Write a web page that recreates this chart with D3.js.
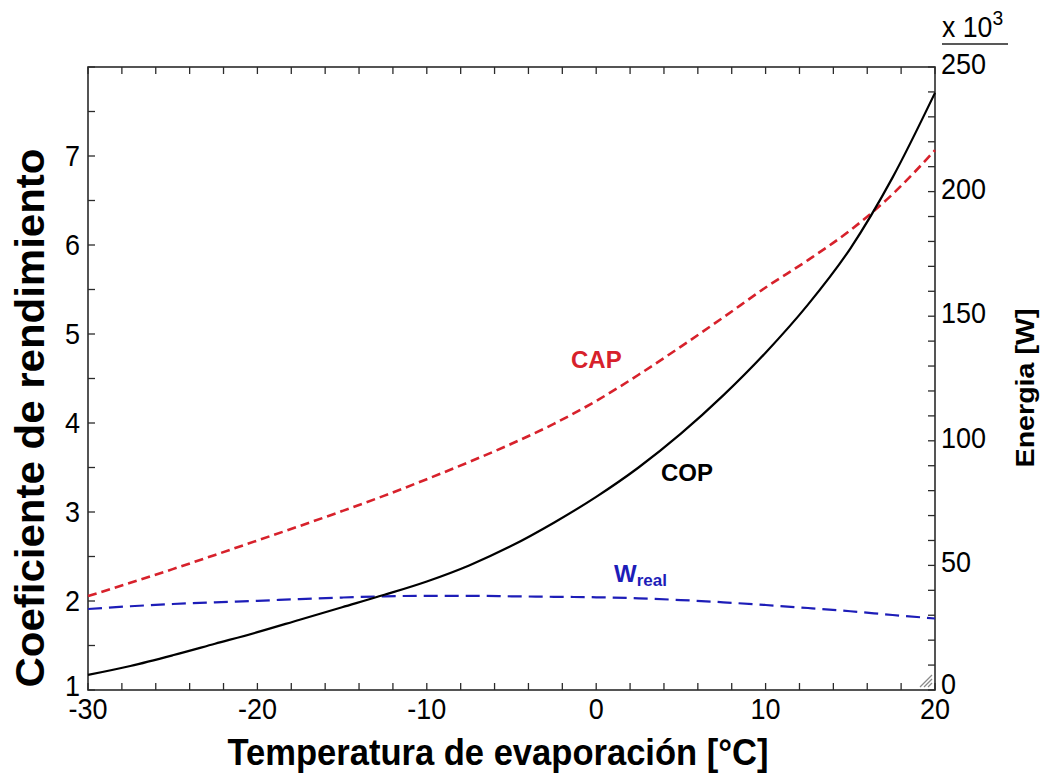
<!DOCTYPE html>
<html>
<head>
<meta charset="utf-8">
<script src="https://cdn.jsdelivr.net/npm/d3@7"></script>
<style>
  html, body { margin: 0; padding: 0; background: #fff; }
  svg { display: block; font-family: Arial, "Liberation Sans", sans-serif; }
</style>
</head>
<body>
<svg id="chart" width="1044" height="780"></svg>
<script>
// Evaporation temperature [°C]
const temperature = [-30, -27.5, -25, -22.5, -20, -17.5, -15, -12.5, -10, -7.5, -5, -2.5, 0, 2.5, 5, 7.5, 10, 12.5, 15, 17.5, 20];
// Coefficient of performance (left axis)
const cop = [1.17, 1.27, 1.39, 1.52, 1.65, 1.79, 1.93, 2.07, 2.22, 2.40, 2.62, 2.88, 3.17, 3.50, 3.88, 4.31, 4.79, 5.33, 5.96, 6.76, 7.71];
// Cooling capacity [W] (right axis)
const cap = [37700, 43000, 48500, 54200, 60000, 65800, 71800, 78000, 84600, 91500, 98800, 106800, 116000, 126500, 137800, 149500, 161500, 172500, 184500, 199000, 216600];
// Real compressor work [W] (right axis)
const wReal = [32500, 33600, 34500, 35200, 35800, 36500, 37100, 37600, 37800, 37800, 37600, 37400, 37200, 36800, 36100, 35200, 34100, 32900, 31600, 30100, 28700];

const xTicks = [-30, -20, -10, 0, 10, 20];
const leftTicks = [1, 2, 3, 4, 5, 6, 7];
const rightTicks = [0, 50, 100, 150, 200, 250];

const svg = d3.select("#chart");
const plot = { left: 88, right: 935, top: 67, bottom: 690 };

const x = d3.scaleLinear().domain([-30, 20]).range([plot.left, plot.right]);
const yL = d3.scaleLinear().domain([1, 8]).range([plot.bottom, plot.top]);
const yR = d3.scaleLinear().domain([0, 250000]).range([plot.bottom, plot.top]);

const frameColor = "#2b2b2b";
const tickFont = 30;
const tickSX = 0.9;   // narrow digits

// Ticks, all pointing inward
const tickLen = 7;
const g = svg.append("g").attr("stroke", frameColor).attr("stroke-width", 1.3);

d3.range(-30, 20.001, 2).forEach(v => {
  g.append("line").attr("x1", x(v)).attr("x2", x(v))
    .attr("y1", plot.bottom).attr("y2", plot.bottom - tickLen);
  g.append("line").attr("x1", x(v)).attr("x2", x(v))
    .attr("y1", plot.top).attr("y2", plot.top + tickLen);
});
d3.range(1, 8.001, 0.5).forEach(v => {
  g.append("line").attr("x1", plot.left).attr("x2", plot.left + tickLen)
    .attr("y1", yL(v)).attr("y2", yL(v));
});
d3.range(0, 250001, 10000).forEach(v => {
  g.append("line").attr("x1", plot.right).attr("x2", plot.right - tickLen)
    .attr("y1", yR(v)).attr("y2", yR(v));
});

// Frame
svg.append("rect")
  .attr("x", plot.left).attr("y", plot.top)
  .attr("width", plot.right - plot.left).attr("height", plot.bottom - plot.top)
  .attr("fill", "none").attr("stroke", frameColor).attr("stroke-width", 1.6);

// Tick labels
svg.append("g").selectAll("text").data(xTicks).join("text")
  .attr("transform", d => `translate(${x(d)},${plot.bottom + 29}) scale(${tickSX},1)`)
  .attr("text-anchor", "middle").attr("font-size", tickFont)
  .text(d => d);
svg.append("g").selectAll("text").data(leftTicks).join("text")
  .attr("transform", d => `translate(${plot.left - 8},${yL(d) + (d === 1 ? 6 : 10)}) scale(${tickSX},1)`)
  .attr("text-anchor", "end").attr("font-size", tickFont)
  .text(d => d);
svg.append("g").selectAll("text").data(rightTicks).join("text")
  .attr("transform", d => `translate(${plot.right + 6},${yR(d * 1000) + (d === 0 ? 4 : 7)}) scale(${tickSX},1)`)
  .attr("text-anchor", "start").attr("font-size", tickFont)
  .text(d => d);

// Multiplier for right axis
const mult = svg.append("text")
  .attr("transform", `translate(942,37) scale(0.92,1)`)
  .attr("font-size", 29);
mult.append("tspan").text("x 10");
mult.append("tspan").attr("dy", -12).attr("font-size", 21).text("3");
svg.append("line").attr("x1", 942).attr("x2", 1008).attr("y1", 44).attr("y2", 44)
  .attr("stroke", "#222").attr("stroke-width", 1.5);

// Axis titles
svg.append("text")
  .attr("transform", `translate(498,765) scale(0.96,1)`)
  .attr("text-anchor", "middle").attr("font-size", 36).attr("font-weight", "bold")
  .text("Temperatura de evaporación [°C]");
svg.append("text")
  .attr("transform", `translate(44,418) rotate(-90) scale(1.05,1)`)
  .attr("text-anchor", "middle").attr("font-size", 40).attr("font-weight", "bold")
  .text("Coeficiente de rendimiento");
svg.append("text")
  .attr("transform", `translate(1034,388) rotate(-90) scale(1.1,1)`)
  .attr("text-anchor", "middle").attr("font-size", 26).attr("font-weight", "bold")
  .text("Energia [W]");

// Series
const idx = d3.range(temperature.length);
const line = d3.line().x(i => x(temperature[i])).curve(d3.curveMonotoneX);

svg.append("path")
  .attr("d", line.y(i => yR(cap[i]))(idx))
  .attr("fill", "none").attr("stroke", "#d7212b").attr("stroke-width", 2.6)
  .attr("stroke-dasharray", "9,5");
svg.append("path")
  .attr("d", line.y(i => yR(wReal[i]))(idx))
  .attr("fill", "none").attr("stroke", "#1d1db8").attr("stroke-width", 2.2)
  .attr("stroke-dasharray", "14,7");
svg.append("path")
  .attr("d", line.y(i => yL(cop[i]))(idx))
  .attr("fill", "none").attr("stroke", "#000").attr("stroke-width", 2.2);

// Series labels
svg.append("text").attr("x", 571).attr("y", 368)
  .attr("font-size", 24).attr("font-weight", "bold").attr("fill", "#d7212b").text("CAP");
svg.append("text").attr("x", 661).attr("y", 481)
  .attr("font-size", 24).attr("font-weight", "bold").attr("fill", "#000").text("COP");
const wl = svg.append("text").attr("x", 614).attr("y", 582)
  .attr("font-weight", "bold").attr("fill", "#1d1db8");
wl.append("tspan").attr("font-size", 24).text("W");
wl.append("tspan").attr("font-size", 17).attr("dy", 4).text("real");

// Resize grip in the lower-right corner
const grip = svg.append("g").attr("stroke", "#8a8a8a").attr("stroke-width", 1.2);
[4, 8, 12].forEach(o => {
  grip.append("line")
    .attr("x1", plot.right - 3 - o).attr("y1", plot.bottom - 3)
    .attr("x2", plot.right - 3).attr("y2", plot.bottom - 3 - o);
});
</script>
</body>
</html>
